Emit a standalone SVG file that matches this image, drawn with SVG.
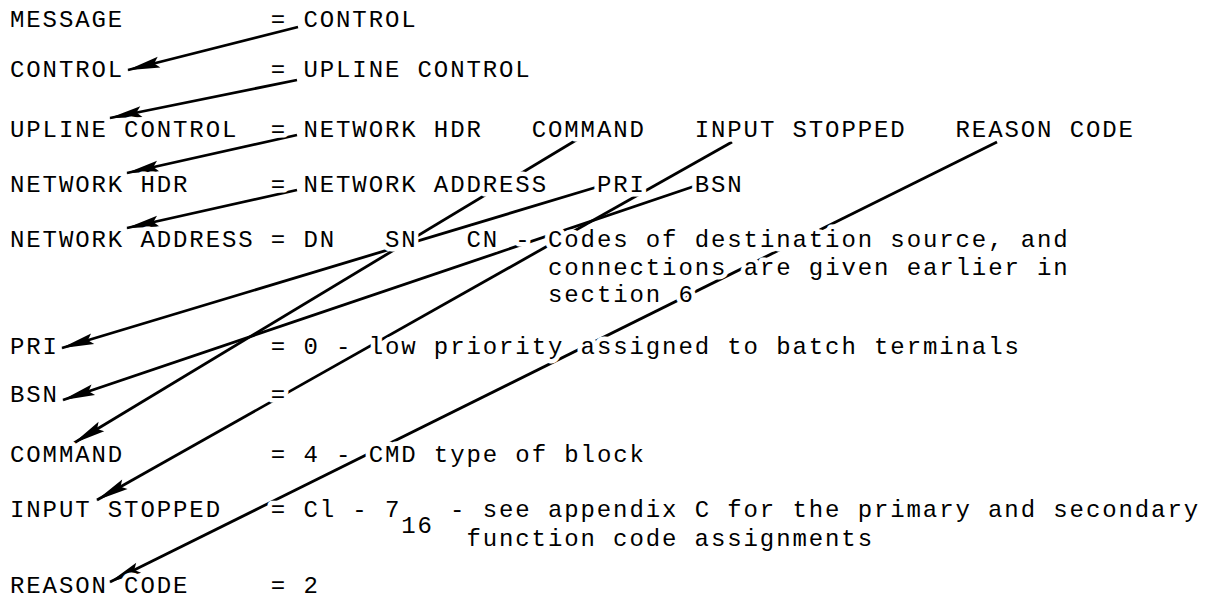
<svg xmlns="http://www.w3.org/2000/svg" width="1216" height="606" viewBox="0 0 1216 606" xml:space="preserve">
<style>
.t{font-family:"Liberation Mono","DejaVu Sans Mono",monospace;font-size:24px;letter-spacing:1.9px;white-space:pre;fill:#000;stroke:#fff;stroke-width:9px;stroke-linejoin:round;paint-order:stroke}
.c line{stroke:#000;stroke-width:2.8;fill:none;marker-end:url(#ah)}
</style>
<defs>
<marker id="ah" markerUnits="userSpaceOnUse" markerWidth="36" markerHeight="14" viewBox="-34 -7 36 14" refX="0" refY="0" orient="auto">
<path d="M1,0 L-32,-5.5 L-27,0 L-32,5.5 Z" fill="#000"/>
</marker>
</defs>
<rect width="1216" height="606" fill="#fff"/>
<g id="connectors" class="c">
<line x1="298" y1="27" x2="128" y2="70"/>
<line x1="297" y1="80" x2="110" y2="118"/>
<line x1="297" y1="135" x2="127" y2="173"/>
<line x1="297" y1="190" x2="127" y2="228"/>
<line x1="578" y1="139" x2="74" y2="443"/>
<line x1="732" y1="142" x2="97" y2="500"/>
<line x1="997" y1="142" x2="110" y2="582"/>
<line x1="597" y1="187" x2="62" y2="348"/>
<line x1="695" y1="186" x2="63" y2="400"/>
</g>
<g id="message"><text class="t" xml:space="preserve" x="10" y="27">MESSAGE         = CONTROL</text></g>
<g id="control"><text class="t" xml:space="preserve" x="10" y="77">CONTROL         = UPLINE CONTROL</text></g>
<g id="upline-control"><text class="t" xml:space="preserve" x="10" y="137">UPLINE CONTROL  = NETWORK HDR   COMMAND   INPUT STOPPED   REASON CODE</text></g>
<g id="network-hdr"><text class="t" xml:space="preserve" x="10" y="192">NETWORK HDR     = NETWORK ADDRESS   PRI   BSN</text></g>
<g id="network-address">
<text class="t" xml:space="preserve" x="10" y="247">NETWORK ADDRESS = DN   SN   CN - Codes of destination source, and</text>
<text class="t" xml:space="preserve" x="548" y="274.5">connections are given earlier in</text>
<text class="t" xml:space="preserve" x="548" y="302">section 6</text>
</g>
<g id="pri"><text class="t" xml:space="preserve" x="10" y="354">PRI             = 0 - low priority assigned to batch terminals</text></g>
<g id="bsn"><text class="t" xml:space="preserve" x="10" y="402">BSN             =</text></g>
<g id="command"><text class="t" xml:space="preserve" x="10" y="462">COMMAND         = 4 - CMD type of block</text></g>
<g id="input-stopped">
<text class="t" xml:space="preserve" x="10" y="517">INPUT STOPPED   = Cl - 7</text>
<text class="t" xml:space="preserve" x="401.2" y="533">16</text>
<text class="t" xml:space="preserve" x="450.1" y="517">- see appendix C for the primary and secondary</text>
<text class="t" xml:space="preserve" x="466.4" y="546">function code assignments</text>
</g>
<g id="reason-code"><text class="t" xml:space="preserve" x="10" y="593">REASON CODE     = 2</text></g>
</svg>
